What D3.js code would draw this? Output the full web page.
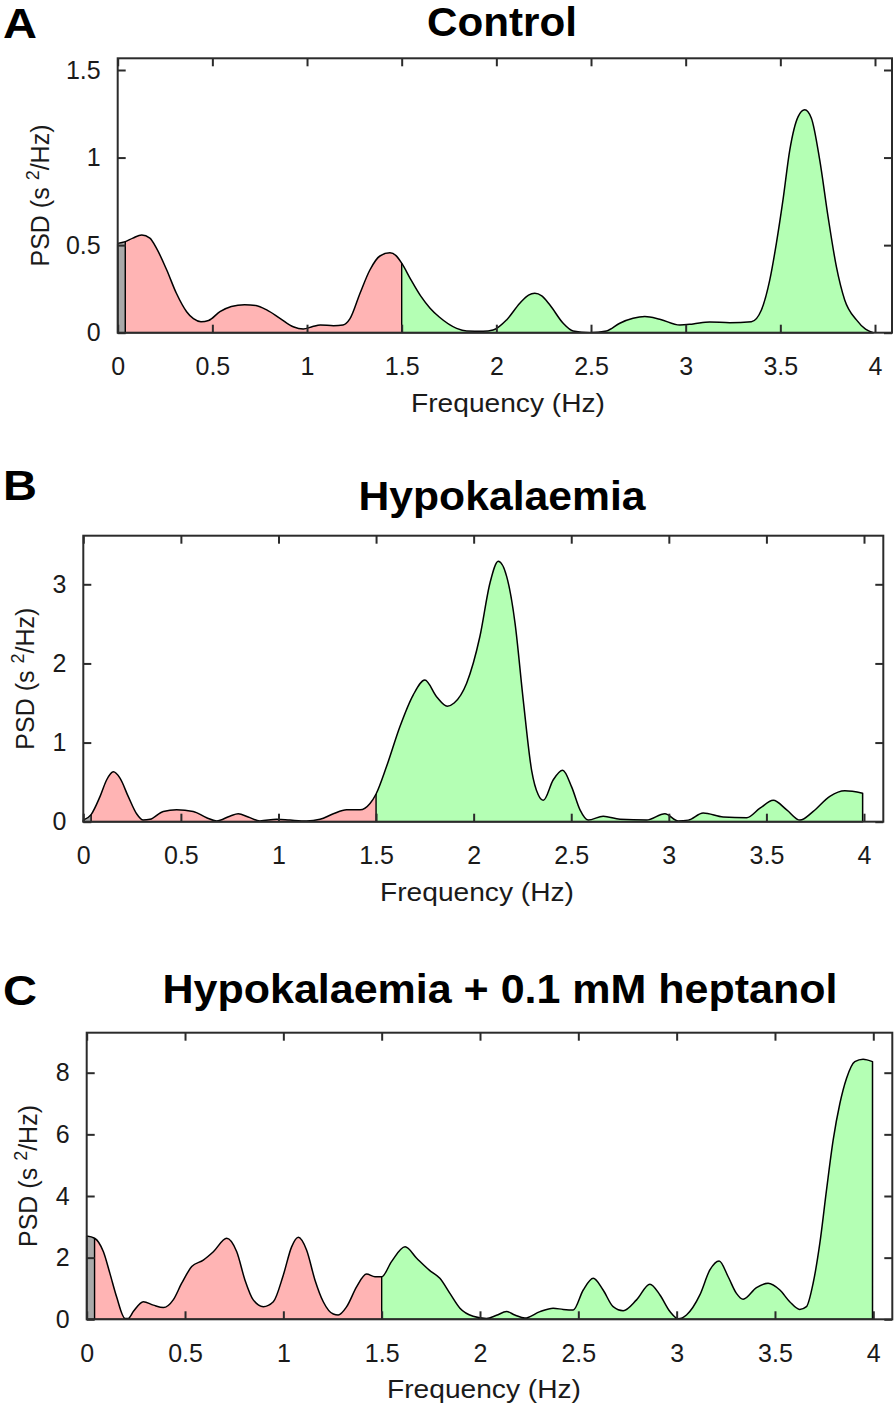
<!DOCTYPE html>
<html>
<head>
<meta charset="utf-8">
<script src="https://cdn.jsdelivr.net/npm/d3@7"></script>
<style>
  html, body { margin: 0; padding: 0; background: #fff; }
  svg { display: block; }
</style>
</head>
<body>
<svg id="chart" width="896" height="1410"></svg>
<script>
// ---------- DATA ----------
const bandLimits = [0.04, 1.5];           // VLF | LF | HF boundaries (Hz)
const xTicks = [0, 0.5, 1, 1.5, 2, 2.5, 3, 3.5, 4];

const controlTicks = [0, 0.5, 1, 1.5];
const controlFreq = [0, 0.04, 0.08, 0.127, 0.17, 0.206, 0.259, 0.31, 0.364, 0.40, 0.44, 0.48, 0.54, 0.60, 0.67, 0.73, 0.787, 0.857, 0.927, 0.98, 1.03, 1.07, 1.14, 1.19, 1.227, 1.28, 1.332, 1.385, 1.438, 1.47, 1.5, 1.55, 1.60, 1.65, 1.70, 1.79, 1.843, 1.93, 1.983, 2.054, 2.124, 2.17, 2.203, 2.24, 2.283, 2.353, 2.405, 2.494, 2.582, 2.652, 2.722, 2.784, 2.863, 2.969, 3.039, 3.127, 3.233, 3.347, 3.40, 3.444, 3.479, 3.514, 3.55, 3.594, 3.629, 3.664, 3.708, 3.752, 3.796, 3.84, 3.902, 3.95, 3.99];
const controlPsd  = [0.51, 0.52, 0.54, 0.558, 0.54, 0.48, 0.358, 0.225, 0.12, 0.08, 0.063, 0.07, 0.12, 0.15, 0.16, 0.155, 0.13, 0.082, 0.034, 0.021, 0.035, 0.044, 0.04, 0.044, 0.08, 0.225, 0.358, 0.438, 0.456, 0.44, 0.397, 0.30, 0.21, 0.14, 0.088, 0.025, 0.01, 0.008, 0.015, 0.073, 0.168, 0.215, 0.225, 0.21, 0.158, 0.054, 0.01, 0.0, 0.01, 0.054, 0.082, 0.092, 0.077, 0.044, 0.05, 0.061, 0.057, 0.063, 0.13, 0.30, 0.51, 0.758, 1.044, 1.234, 1.273, 1.225, 0.987, 0.663, 0.377, 0.187, 0.073, 0.02, 0.0];

const hypoTicks = [0, 1, 2, 3];
const hypoFreq = [0, 0.04, 0.086, 0.12, 0.154, 0.188, 0.23, 0.273, 0.307, 0.342, 0.41, 0.478, 0.563, 0.632, 0.683, 0.751, 0.794, 0.845, 0.905, 0.991, 1.059, 1.144, 1.213, 1.281, 1.349, 1.418, 1.469, 1.5, 1.554, 1.622, 1.69, 1.75, 1.81, 1.865, 1.9, 1.964, 2.032, 2.084, 2.126, 2.169, 2.212, 2.254, 2.297, 2.331, 2.357, 2.408, 2.456, 2.502, 2.545, 2.587, 2.664, 2.75, 2.886, 2.98, 3.048, 3.1, 3.176, 3.279, 3.399, 3.467, 3.535, 3.604, 3.672, 3.74, 3.825, 3.902, 3.993];
const hypoPsd  = [0.02, 0.09, 0.32, 0.53, 0.63, 0.55, 0.32, 0.1, 0.02, 0.03, 0.13, 0.15, 0.13, 0.05, 0.01, 0.07, 0.1, 0.06, 0.01, 0.03, 0.02, 0.01, 0.03, 0.1, 0.15, 0.15, 0.23, 0.35, 0.7, 1.2, 1.6, 1.79, 1.58, 1.46, 1.5, 1.75, 2.34, 3.02, 3.29, 3.1, 2.51, 1.54, 0.65, 0.34, 0.27, 0.53, 0.65, 0.44, 0.15, 0.02, 0.07, 0.03, 0.02, 0.1, 0.01, 0.02, 0.11, 0.06, 0.05, 0.17, 0.27, 0.15, 0.02, 0.13, 0.32, 0.39, 0.36];

const heptTicks = [0, 2, 4, 6, 8];
const heptFreq = [0, 0.04, 0.085, 0.118, 0.152, 0.195, 0.211, 0.237, 0.288, 0.339, 0.39, 0.44, 0.483, 0.534, 0.593, 0.644, 0.712, 0.763, 0.805, 0.847, 0.898, 0.949, 1.0, 1.042, 1.076, 1.118, 1.161, 1.203, 1.254, 1.279, 1.322, 1.373, 1.423, 1.466, 1.5, 1.55, 1.619, 1.678, 1.745, 1.796, 1.847, 1.898, 1.965, 2.033, 2.084, 2.135, 2.177, 2.228, 2.305, 2.372, 2.423, 2.474, 2.525, 2.576, 2.626, 2.677, 2.728, 2.796, 2.864, 2.915, 2.966, 3.008, 3.05, 3.118, 3.169, 3.216, 3.262, 3.304, 3.338, 3.406, 3.465, 3.525, 3.575, 3.626, 3.66, 3.694, 3.728, 3.762, 3.796, 3.83, 3.864, 3.906, 3.948, 3.996];
const heptPsd  = [2.7, 2.63, 2.19, 1.49, 0.73, 0.03, 0.03, 0.25, 0.57, 0.46, 0.38, 0.63, 1.17, 1.71, 1.92, 2.19, 2.63, 2.19, 1.27, 0.63, 0.41, 0.57, 1.44, 2.35, 2.66, 2.25, 1.27, 0.57, 0.17, 0.14, 0.41, 1.06, 1.47, 1.38, 1.38, 1.87, 2.35, 1.98, 1.58, 1.33, 0.84, 0.36, 0.1, 0.03, 0.13, 0.25, 0.14, 0.04, 0.25, 0.36, 0.32, 0.3, 0.95, 1.33, 0.95, 0.41, 0.28, 0.63, 1.14, 0.79, 0.25, 0.02, 0.14, 0.79, 1.6, 1.89, 1.38, 0.84, 0.65, 1.03, 1.17, 0.95, 0.57, 0.32, 0.41, 1.17, 2.46, 4.19, 5.82, 7.0, 7.82, 8.36, 8.44, 8.36];

const panelLetters = ["A", "B", "C"];
const panelTitles = ["Control", "Hypokalaemia", "Hypokalaemia + 0.1 mM heptanol"];
const xLabel = "Frequency (Hz)";

// ---------- LAYOUT ----------
const layouts = [
  { left: 117.7, right: 892, top: 58.3, bottom: 332.7, x4: 875, yTopVal: 1.5, yTopPx: 70,
    letterY: 38, titleY: 36, titleX: 502, titleLen: 150, xlabX: 508, ylabX: 40 },
  { left: 83.3, right: 883.3, top: 535.7, bottom: 821.7, x4: 864, yTopVal: 3, yTopPx: 584.3,
    letterY: 500, titleY: 510, titleX: 502, titleLen: 287, xlabX: 477, ylabX: 25 },
  { left: 86.7, right: 892.3, top: 1032.7, bottom: 1319.3, x4: 873.3, yTopVal: 8, yTopPx: 1072.7,
    letterY: 1005, titleY: 1003, titleX: 500, titleLen: 675, xlabX: 484, ylabX: 28 }
];

const datasets = [
  { freq: controlFreq, psd: controlPsd, ticks: controlTicks },
  { freq: hypoFreq, psd: hypoPsd, ticks: hypoTicks },
  { freq: heptFreq, psd: heptPsd, ticks: heptTicks }
];

const FONT = "'Liberation Sans', Arial, Helvetica, sans-serif";
const COL = { vlf: "#a9a9a9", lf: "#ffb4b4", hf: "#b4ffb4", line: "#000", frame: "#2b2b2b", text: "#1a1a1a" };

const svg = d3.select("#chart");

datasets.forEach((ds, i) => {
  const L = layouts[i];
  const g = svg.append("g");
  const x = d3.scaleLinear().domain([0, 4]).range([L.left, L.x4]);
  const y = d3.scaleLinear().domain([0, L.yTopVal]).range([L.bottom, L.yTopPx]);
  const pts = ds.freq.map((f, k) => [f, ds.psd[k]]);

  const area = d3.area().x(d => x(d[0])).y0(y(0)).y1(d => y(d[1])).curve(d3.curveMonotoneX);

  // band clips
  const bands = [
    { from: 0, to: bandLimits[0], color: COL.vlf },
    { from: bandLimits[0], to: bandLimits[1], color: COL.lf },
    { from: bandLimits[1], to: 4.2, color: COL.hf }
  ];
  bands.forEach((b, j) => {
    const id = `clip-${i}-${j}`;
    svg.append("clipPath").attr("id", id).append("rect")
      .attr("x", x(b.from)).attr("y", L.top)
      .attr("width", x(b.to) - x(b.from)).attr("height", L.bottom - L.top);
    g.append("path").datum(pts).attr("d", area).attr("fill", b.color)
      .attr("clip-path", `url(#${id})`);
  });

  // band boundary lines
  bandLimits.forEach(bl => {
    const k = ds.freq.indexOf(bl);
    const v = k >= 0 ? ds.psd[k] : 0;
    g.append("line").attr("x1", x(bl)).attr("x2", x(bl))
      .attr("y1", y(0)).attr("y2", y(v))
      .attr("stroke", COL.line).attr("stroke-width", 1.4);
  });

  // outline
  g.append("path").datum(pts).attr("d", area).attr("fill", "none")
    .attr("stroke", COL.line).attr("stroke-width", 1.5).attr("stroke-linejoin", "round");

  // axes
  const xb = d3.axisBottom(x).tickValues(xTicks).tickSize(-8).tickPadding(25)
    .tickFormat(d3.format("~g"));
  const xt = d3.axisTop(x).tickValues(xTicks).tickSize(-8).tickFormat("");
  const yl = d3.axisLeft(y).tickValues(ds.ticks).tickSize(-8).tickPadding(17)
    .tickFormat(d3.format("~g"));
  const yr = d3.axisRight(y).tickValues(ds.ticks).tickSize(-8).tickFormat("");

  const styleAxis = sel => {
    sel.select(".domain").remove();
    sel.selectAll(".tick line").attr("stroke", COL.frame).attr("stroke-width", 2);
    sel.selectAll(".tick text").attr("fill", COL.text).style("font-family", FONT).style("font-size", "25px");
  };
  g.append("g").attr("transform", `translate(0,${L.bottom})`).call(xb).call(styleAxis);
  g.append("g").attr("transform", `translate(0,${L.top})`).call(xt).call(styleAxis);
  g.append("g").attr("transform", `translate(${L.left},0)`).call(yl).call(styleAxis);
  g.append("g").attr("transform", `translate(${L.right},0)`).call(yr).call(styleAxis);

  // frame
  g.append("rect").attr("x", L.left).attr("y", L.top)
    .attr("width", L.right - L.left).attr("height", L.bottom - L.top)
    .attr("fill", "none").attr("stroke", COL.frame).attr("stroke-width", 2);

  // x label
  g.append("text").attr("x", L.xlabX).attr("y", L.bottom + 79)
    .attr("text-anchor", "middle").attr("fill", COL.text)
    .style("font-family", FONT).style("font-size", "25px")
    .attr("textLength", 194).attr("lengthAdjust", "spacingAndGlyphs")
    .text(xLabel);

  // y label
  const cy = (L.top + L.bottom) / 2;
  const yt = g.append("text")
    .attr("transform", `translate(${L.ylabX + 9},${cy}) rotate(-90)`)
    .attr("text-anchor", "middle").attr("fill", COL.text)
    .style("font-family", FONT).style("font-size", "25px");
  yt.append("tspan").text("PSD (s ");
  yt.append("tspan").attr("dy", -10).style("font-size", "18px").text("2");
  yt.append("tspan").attr("dy", 10).text("/Hz)");

  // panel letter & title
  svg.append("text").attr("x", 3).attr("y", L.letterY)
    .style("font-family", FONT).style("font-size", "42px").style("font-weight", "bold")
    .attr("textLength", 34).attr("lengthAdjust", "spacingAndGlyphs")
    .text(panelLetters[i]);
  svg.append("text").attr("x", L.titleX).attr("y", L.titleY).attr("text-anchor", "middle")
    .style("font-family", FONT).style("font-size", "40px").style("font-weight", "bold")
    .attr("textLength", L.titleLen).attr("lengthAdjust", "spacingAndGlyphs")
    .text(panelTitles[i]);
});
</script>
</body>
</html>
